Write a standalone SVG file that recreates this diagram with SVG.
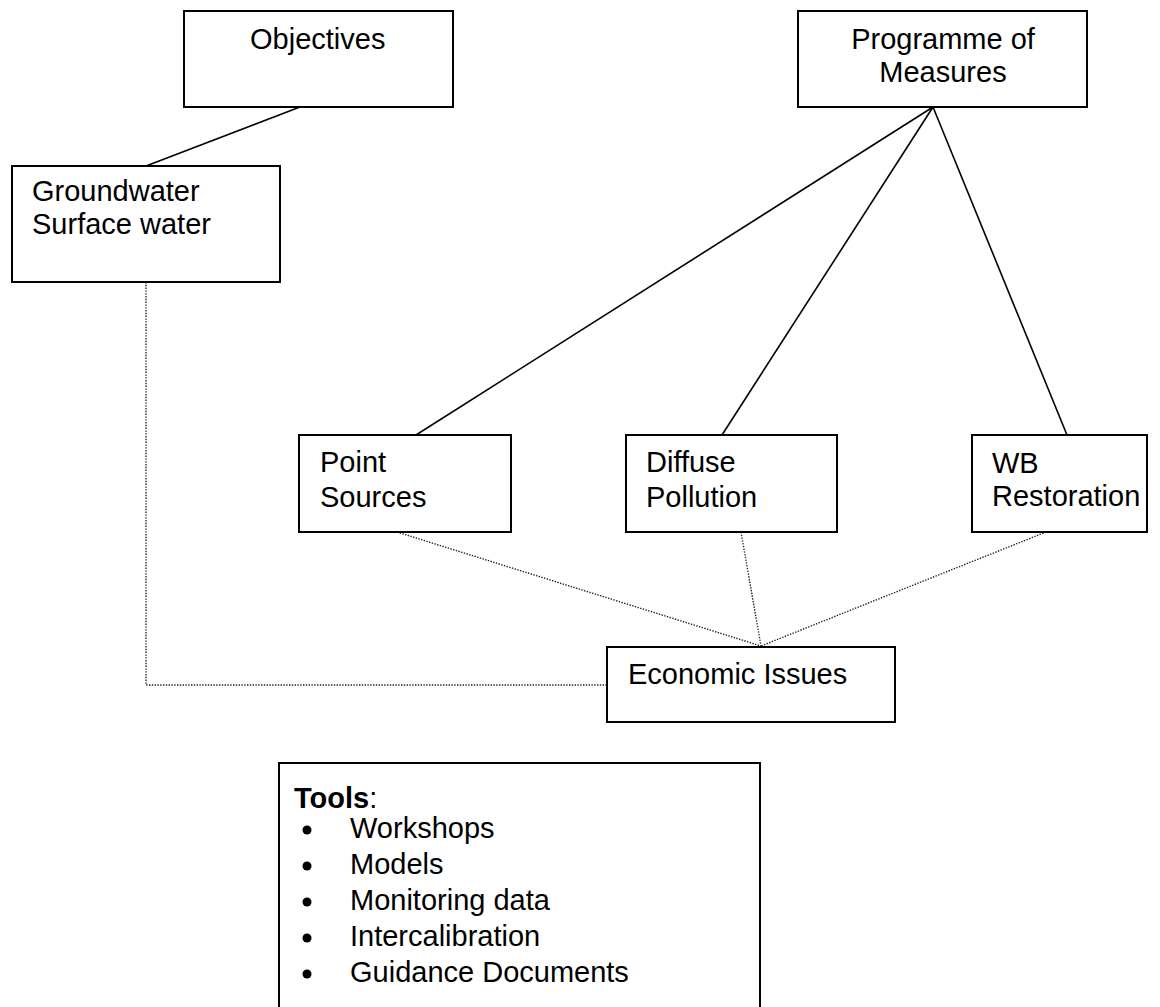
<svg xmlns="http://www.w3.org/2000/svg" width="1160" height="1007" viewBox="0 0 1160 1007">
<style>
.box{fill:#fff;stroke:#000;stroke-width:2}
.t{font-family:"Liberation Sans",Arial,sans-serif;font-size:29px;fill:#000}
.solid{stroke:#000;stroke-width:1.6;fill:none}
.dot{stroke:#222;stroke-width:1.4;fill:none;stroke-dasharray:1.4 1.4}
</style>
<rect width="1160" height="1007" fill="#fff"/>
<g id="connectors">
<line class="solid" x1="300" y1="107" x2="146" y2="166"/>
<line class="solid" x1="933" y1="107" x2="416" y2="435"/>
<line class="solid" x1="933" y1="107" x2="722" y2="435"/>
<line class="solid" x1="933" y1="107" x2="1067" y2="435"/>
<polyline class="dot" points="146,282 146,685 606,685"/>
<line class="dot" x1="397" y1="532" x2="761" y2="646"/>
<line class="dot" x1="741" y1="532" x2="761" y2="646"/>
<line class="dot" x1="1046" y1="532" x2="761" y2="646"/>
</g>
<g id="objectives">
<rect class="box" x="184" y="11" width="269" height="96"/>
<text class="t" x="250" y="49">Objectives</text>
</g>
<g id="programme">
<rect class="box" x="798" y="11" width="289" height="96"/>
<text class="t" x="943" y="49" text-anchor="middle">Programme of</text>
<text class="t" x="943" y="82" text-anchor="middle">Measures</text>
</g>
<g id="water">
<rect class="box" x="12" y="166" width="268" height="116"/>
<text class="t" x="32" y="201">Groundwater</text>
<text class="t" x="32" y="234">Surface water</text>
</g>
<g id="point">
<rect class="box" x="299" y="435" width="212" height="97"/>
<text class="t" x="320" y="472">Point</text>
<text class="t" x="320" y="507">Sources</text>
</g>
<g id="diffuse">
<rect class="box" x="626" y="435" width="211" height="97"/>
<text class="t" x="646" y="472">Diffuse</text>
<text class="t" x="646" y="507">Pollution</text>
</g>
<g id="wb">
<rect class="box" x="972" y="435" width="175" height="97"/>
<text class="t" x="992" y="473">WB</text>
<text class="t" x="992" y="506">Restoration</text>
</g>
<g id="economic">
<rect class="box" x="607" y="647" width="288" height="75"/>
<text class="t" x="628" y="684">Economic Issues</text>
</g>
<g id="tools">
<rect class="box" x="279" y="763" width="481" height="260"/>
<text class="t" x="294" y="808"><tspan font-weight="bold">Tools</tspan>:</text>
<circle cx="307" cy="830" r="4.5"/>
<circle cx="307" cy="866" r="4.5"/>
<circle cx="307" cy="902" r="4.5"/>
<circle cx="307" cy="938" r="4.5"/>
<circle cx="307" cy="974" r="4.5"/>
<text class="t" x="350" y="838">Workshops</text>
<text class="t" x="350" y="874">Models</text>
<text class="t" x="350" y="910">Monitoring data</text>
<text class="t" x="350" y="946">Intercalibration</text>
<text class="t" x="350" y="982">Guidance Documents</text>
</g>
</svg>
